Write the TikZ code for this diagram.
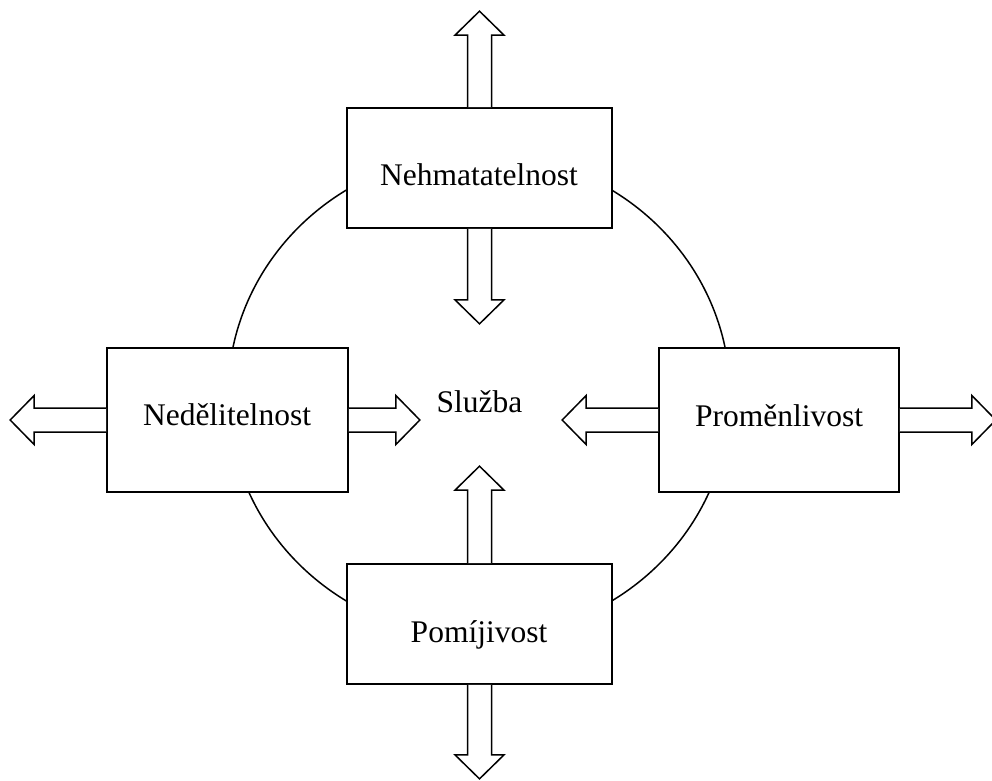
\documentclass[tikz,border=0pt]{standalone}
\usepackage{fontspec}
\setmainfont{Liberation Serif}
\tikzset{
  box/.style={draw, fill=white, line width=1.7pt, inner sep=0pt},
  arrowline/.style={draw, fill=white, line width=1.5pt, line join=miter},
  lbl/.style={anchor=base, inner sep=0pt, font=\fontsize{31.5}{38}\selectfont},
  ring/.style={line width=1.5pt}
}
\newcommand\blockarrow[3]{%
  \draw[arrowline, shift={(#1)}, rotate=#2]
    (0,-12) -- (#3-24,-12) -- (#3-24,-24.5) -- (#3,0) -- (#3-24,24.5) -- (#3-24,12) -- (0,12);}
\begin{document}
\begin{tikzpicture}[x=1pt, y=-1pt]
\useasboundingbox (0,0) rectangle (992,780);
\clip (0,0) rectangle (992,780);
% ring
\draw[ring] (479,395.5) ellipse [x radius=251, y radius=242];
% boxes
\node[box, minimum width=265pt, minimum height=120pt] (T) at (479.5,168) {};
\node[box, minimum width=241pt, minimum height=144pt] (L) at (227.5,420) {};
\node[box, minimum width=240pt, minimum height=144pt] (R) at (779,420) {};
\node[box, minimum width=265pt, minimum height=120pt] (B) at (479.5,624) {};
% labels
\node[lbl] (tT) at (479,185) {Nehmatatelnost};
\node[lbl] (tL) at (227,425) {Nedělitelnost};
\node[lbl] (tR) at (779,426) {Proměnlivost};
\node[lbl] (tB) at (479,642) {Pomíjivost};
\node[lbl] (tS) at (479.5,412) {Služba};
% arrows
\blockarrow{T.north}{90}{96}
\blockarrow{T.south}{-90}{95}
\blockarrow{L.west}{180}{96}
\blockarrow{L.east}{0}{71}
\blockarrow{R.west}{180}{96}
\blockarrow{R.east}{0}{96}
\blockarrow{B.north}{90}{97}
\blockarrow{B.south}{-90}{94}
\end{tikzpicture}
\end{document}
